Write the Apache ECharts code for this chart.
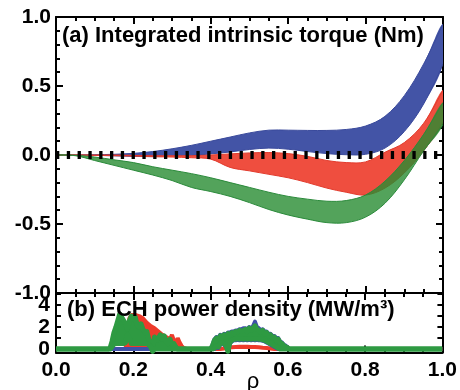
<!DOCTYPE html>
<html><head><meta charset="utf-8">
<script src="https://cdn.jsdelivr.net/npm/echarts@6/dist/echarts.min.js"></script>
<style>html,body{margin:0;padding:0;background:#fff}#c{width:460px;height:390px}</style>
</head><body><div id="c"></div>
<script>
// ---------- panel (a): integrated intrinsic torque bands ----------
const rho = [0,0.05,0.1,0.15,0.2,0.25,0.3,0.35,0.4,0.45,0.5,0.55,0.6,0.65,0.7,0.75,0.8,0.85,0.9,0.95,1.0];
const blueUpper = [0,0,0.002,0.005,0.012,0.025,0.045,0.07,0.1,0.13,0.16,0.18,0.18,0.178,0.178,0.185,0.21,0.28,0.43,0.66,0.95];
const blueLower = [0,0,-0.002,-0.006,-0.01,-0.012,-0.01,-0.004,0.008,0.022,0.04,0.05,0.042,0.025,0.01,0.002,0.005,0.05,0.17,0.37,0.66];
const redUpper  = [0,0,0,0,-0.003,-0.005,-0.005,-0.005,0,0.008,0.015,0.018,0.01,-0.01,-0.04,-0.055,-0.05,0.02,0.09,0.23,0.47];
const redLower  = [0,0,-0.003,-0.005,-0.008,-0.012,-0.015,-0.02,-0.03,-0.09,-0.115,-0.14,-0.165,-0.2,-0.24,-0.27,-0.29,-0.24,-0.13,0.03,0.24];
const greenUpper= [0,-0.002,-0.015,-0.035,-0.055,-0.085,-0.11,-0.135,-0.165,-0.2,-0.235,-0.27,-0.3,-0.32,-0.335,-0.33,-0.29,-0.19,-0.04,0.15,0.38];
const greenLower= [0,-0.005,-0.04,-0.075,-0.11,-0.145,-0.185,-0.235,-0.265,-0.3,-0.345,-0.395,-0.435,-0.465,-0.49,-0.49,-0.45,-0.35,-0.18,0.03,0.22];

// ---------- panel (b): ECH power density ----------
const echRho = [0,
 0.130,0.135,0.140,0.145,0.150,0.155,0.160,0.165,0.170,0.175,0.180,0.185,0.190,0.195,0.200,0.205,0.210,0.215,0.220,0.225,0.230,0.235,0.240,0.245,0.250,0.255,0.260,0.265,0.270,0.275,0.280,0.285,0.290,0.295,0.300,0.305,0.310,0.315,0.320,0.325,0.330,0.335,0.340,
 0.395,0.400,0.405,0.410,0.415,0.420,0.425,0.430,0.435,0.440,0.445,0.450,0.455,0.460,0.465,0.470,0.475,0.480,0.485,0.490,0.495,0.500,0.505,0.510,0.515,0.520,0.525,0.530,0.535,0.540,0.545,0.550,0.555,0.560,0.565,0.570,0.575,0.580,0.585,0.590,0.595,0.600,0.605,0.610,0.615,
 1.0];
const echRed = [0,
 0,0,0,0,0,0,0,0,0,0,0,1.5,2.8,3.1,3.0,3.1,3.2,3.0,3.1,2.8,2.7,2.4,2.3,2.1,2.2,1.9,1.8,1.6,1.7,1.3,1.4,1.1,1.2,0.9,1.3,0.8,0.5,1.0,0.6,0.3,0.1,0,0,
 0,0,0,0,0,0,0,0,0.05,0.1,0.12,0.15,0.17,0.18,0.2,0.2,0.22,0.22,0.22,0.22,0.22,0.22,0.2,0.2,0.2,0.18,0.17,0.15,0.13,0.12,0.1,0.08,0.05,0.02,0,0,0,0,0,0,0,0,0,0,0,
 0];
const echBlueLo = [0,
 0,0,0,0,0,0,0,0,0,0,0,0,0,0,0,0,0,0,0,0,0,0,0,0,0,0,0,0,0,0,0,0,0,0,0,0,0,0,0,0,0,0,0,
 0,0,0,0,0.2,0.1,0.4,0.5,0.4,0.2,-0.1,0.5,0.7,0.8,0.8,0.85,0.8,0.85,0.8,0.85,0.8,0.85,0.8,0.85,0.8,0.85,0.8,0.8,0.75,0.7,0.6,0.5,0.4,0.3,0.2,0.1,0,0,0,0,0,0,0,0,0,
 0];
const echBlueHi = [0,
 0,0,0,0,0,0,0,0,0,0,0,0,0,0,0,0,0,0,0,0,0,0,0,0,0,0,0,0,0,0,0,0,0,0,0,0,0,0,0,0,0,0,0,
 0,0,0.4,0.9,1.1,1.0,1.3,1.2,1.4,1.3,1.5,1.5,1.6,1.6,1.7,1.7,1.8,1.8,1.9,1.9,1.8,2.0,1.9,2.1,2.5,2.0,1.9,1.7,1.8,1.6,1.6,1.4,1.4,1.2,1.2,1.0,1.0,0.7,0.6,0.4,0.3,0.1,0,0,0,
 0];
const echGreenLo = [0,
 0,0,0,0.2,0.45,0.5,0.5,0.5,0.5,0.5,0.6,1.3,1.0,0.5,0.5,0.5,0.5,0.5,0.5,0.5,0.5,0.5,0.4,0.2,-0.2,0,0,0,0,0,0,0,0,0,0,0,0,0,0,0,0,0,0,
 0,0,0,0.1,0.3,0.2,0.5,0.6,0.5,0.3,-0.2,0.6,0.8,0.9,0.9,0.95,0.9,0.95,0.9,0.95,0.9,0.95,0.9,0.95,0.9,0.95,0.9,0.9,0.85,0.8,0.7,0.6,0.5,0.4,0.3,0.2,0.1,0,0,0,0,0,0,0,0,
 0];
const echGreenHi = [0,
 0,0,0.1,0.7,1.5,2.0,2.6,3.2,2.9,2.6,2.3,1.8,2.6,3.0,2.7,2.9,2.2,2.0,2.3,1.8,1.5,1.6,0.9,0.5,0.2,1.1,0.8,1.0,1.3,0.9,1.2,0.7,0.5,0.9,0.4,0.5,0.2,0,0,0,0,0,0,
 0,0,0.3,0.8,1.0,0.8,1.2,1.0,1.3,1.1,1.4,1.3,1.5,1.4,1.6,1.5,1.7,1.6,1.7,1.8,1.6,1.9,1.7,1.9,2.1,1.8,1.7,1.5,1.7,1.4,1.5,1.2,1.3,1.0,1.1,0.8,0.9,0.6,0.5,0.3,0.2,0.1,0,0,0,
 0];

// ---------- tick values ----------
const echTicks = [0,2,4];
const echMinorTicks = [0,1,2,3,4,5];

const FONT = '"Liberation Sans", Arial, Helvetica, sans-serif';

// band drawn as a filled polygon between lower and upper curves, via the axes' own coord()
function band(xi, yi, xs, lo, hi, fill, edge, w, smooth, z) {
  return {
    type:'custom', xAxisIndex:xi, yAxisIndex:yi, z:z, silent:true,
    data: xs.map((x,i)=>[x, lo[i], hi[i]]),
    encode:{x:0, y:[1,2]},
    renderItem: function(params, api) {
      if (params.dataIndex !== 0) return null;
      const top = xs.map((x,i)=>api.coord([x, hi[i]]));
      const bot = xs.map((x,i)=>api.coord([x, lo[i]])).reverse();
      const cs = params.coordSys;
      return {
        type:'group',
        clipPath:{type:'rect', shape:{x:cs.x, y:cs.y-3, width:cs.width, height:cs.height+6}},
        children:[
          {type:'polygon', shape:{points: top.concat(bot), smooth: smooth},
           style:{fill:fill, stroke:'none'}},
          {type:'polyline', shape:{points: top, smooth: smooth},
           style:{fill:'none', stroke:edge, lineWidth:w, lineJoin:'round'}},
          {type:'polyline', shape:{points: bot, smooth: smooth},
           style:{fill:'none', stroke:edge, lineWidth:w, lineJoin:'round'}}
        ]
      };
    }
  };
}

const axisLine = {show:true, onZero:false, lineStyle:{color:'#000', width:2}};
function xAx(grid, pos, labels) {
  return {type:'value', gridIndex:grid, position:pos, min:0, max:1, interval:0.2,
    axisLine:axisLine,
    axisTick:{show:true, inside:true, length:7, lineStyle:{color:'#000', width:2}},
    minorTick:{show:true, splitNumber:4, length:4, lineStyle:{color:'#000', width:2}},
    splitLine:{show:false}, minorSplitLine:{show:false},
    axisLabel:{show:labels, margin:7, color:'#000', fontFamily:FONT, fontWeight:'bold', fontSize:21,
      formatter:v=>v.toFixed(1)}};
}
const chart = echarts.init(document.getElementById('c'), null, {renderer:'canvas'});
const series = [
  band(0, 0, rho, blueLower, blueUpper, '#4354a6', '#3a4a9c', 1, 0.35, 2),
  band(0, 0, rho, redLower, redUpper, '#ef4e3f', '#e23a2c', 1, 0.35, 3),
  band(0, 0, rho, greenLower, greenUpper, 'rgba(40,140,50,0.8)', '#2a8a3a', 1, 0.35, 4),
  {type:'line', xAxisIndex:0, yAxisIndex:0, data:[[0,0],[1,0]], symbol:'none', z:10, silent:true,
    lineStyle:{color:'#000', width:8, type:[3.3,7.5], cap:'butt'}},
  {type:'line', xAxisIndex:2, yAxisIndex:2, data: echRho.map((x,i)=>[x, echRed[i]]), symbol:'none',
    areaStyle:{color:'#ee3b2b', opacity:1}, lineStyle:{color:'#ee3b2b', width:4}, z:2, silent:true},
  band(2, 2, echRho, echBlueLo, echBlueHi, '#3f50a8', '#3f50a8', 4, 0, 3),
  band(2, 2, echRho, echGreenLo, echGreenHi, '#2e9a42', '#2e9a42', 5, 0, 4)
];
chart.setOption({
  animation:false,
  backgroundColor:'#fff',
  grid:[{left:56, top:17, width:387, height:276},
        {left:56, top:293, width:387, height:59.4}],
  xAxis:[xAx(0,'bottom',false), xAx(0,'top',false), xAx(1,'bottom',true), xAx(1,'top',false)],
  yAxis:[
    {type:'value', gridIndex:0, position:'left', min:-1, max:1, interval:0.5,
     axisLine:axisLine,
     axisTick:{show:true, inside:true, length:7, lineStyle:{color:'#000', width:2}},
     minorTick:{show:true, splitNumber:5, length:4, lineStyle:{color:'#000', width:2}},
     splitLine:{show:false},
     axisLabel:{margin:5, color:'#000', fontFamily:FONT, fontWeight:'bold', fontSize:21, formatter:v=>v.toFixed(1)}},
    {type:'value', gridIndex:0, position:'right', min:-1, max:1, interval:0.5,
     axisLine:axisLine,
     axisTick:{show:true, inside:true, length:7, lineStyle:{color:'#000', width:2}},
     minorTick:{show:true, splitNumber:5, length:4, lineStyle:{color:'#000', width:2}},
     splitLine:{show:false}, axisLabel:{show:false}},
    {type:'value', gridIndex:1, position:'left', min:-0.3, max:5.1,
     axisLine:axisLine,
     axisTick:{show:true, inside:true, length:5, customValues:echMinorTicks, lineStyle:{color:'#000', width:2}},
     splitLine:{show:false},
     axisLabel:{margin:6, customValues:echTicks, color:'#000', fontFamily:FONT, fontWeight:'bold', fontSize:21, formatter:v=>String(v)}},
    {type:'value', gridIndex:1, position:'right', min:-0.3, max:5.1,
     axisLine:axisLine,
     axisTick:{show:true, inside:true, length:5, customValues:echMinorTicks, lineStyle:{color:'#000', width:2}},
     splitLine:{show:false}, axisLabel:{show:false}}
  ],
  graphic:[
    {type:'text', x:62, y:36, z:50, style:{text:'(a) Integrated intrinsic torque (Nm)', fill:'#000',
      font:'bold 22px '+FONT, verticalAlign:'middle', align:'left'}},
    {type:'text', x:67, y:310, z:50, style:{text:'(b) ECH power density (MW/m³)', fill:'#000',
      font:'bold 22px '+FONT, verticalAlign:'middle', align:'left'}},
    {type:'text', x:253, y:382, z:50, style:{text:'ρ', fill:'#000',
      font:'22px '+FONT, verticalAlign:'middle', align:'center'}}
  ],
  series:series
});
</script></body></html>
